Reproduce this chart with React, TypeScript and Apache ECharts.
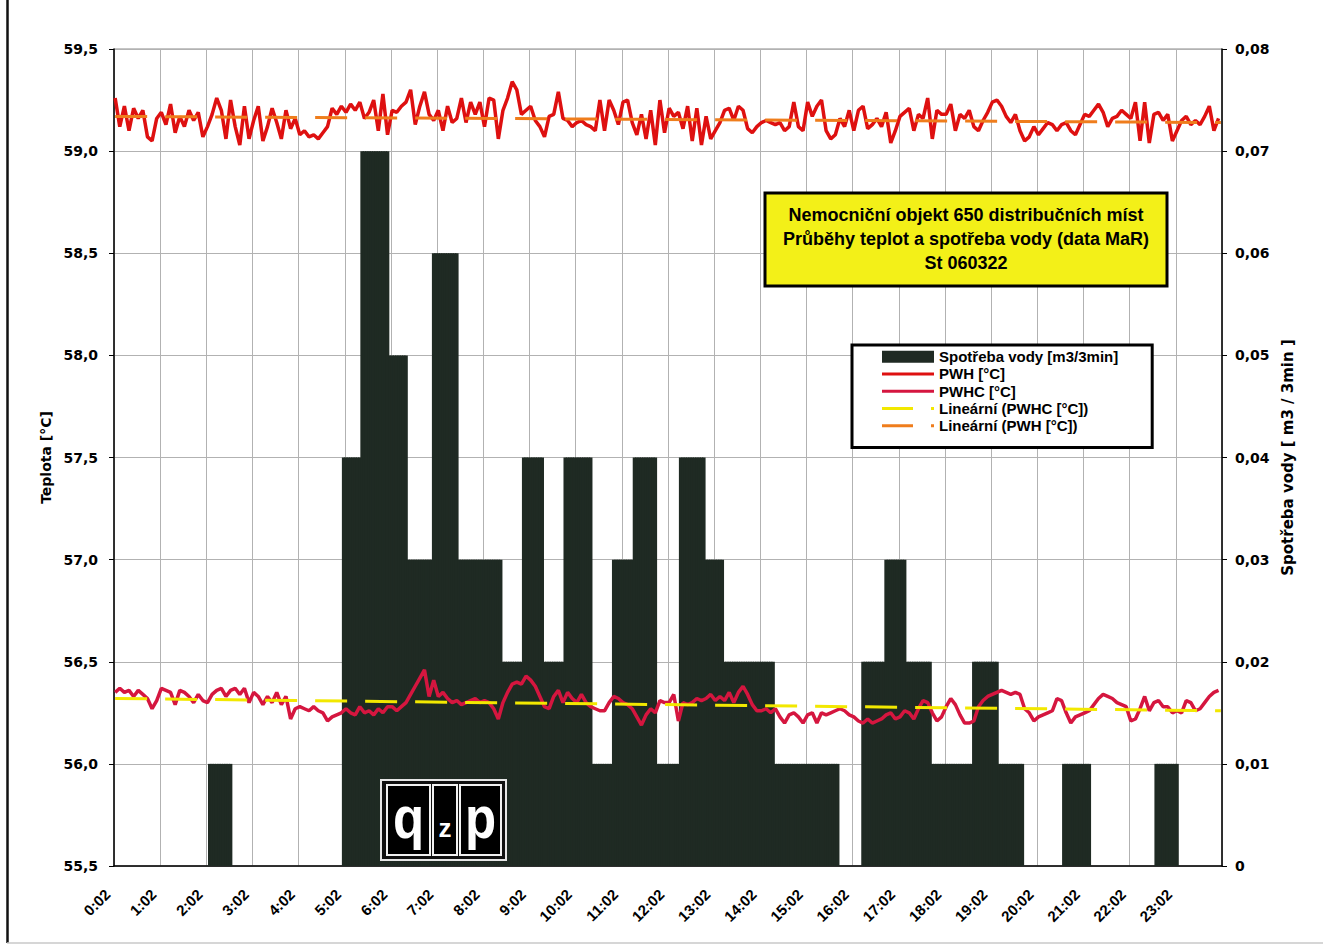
import { useEffect, useRef } from 'react';
import * as echarts from 'echarts';

// Hour labels of the time axis (one 3-minute sample every slot, 20 slots per hour)
const hourLabels = [
  '0:02', '1:02', '2:02', '3:02', '4:02', '5:02', '6:02', '7:02', '8:02', '9:02', '10:02', '11:02',
  '12:02', '13:02', '14:02', '15:02', '16:02', '17:02', '18:02', '19:02', '20:02', '21:02', '22:02', '23:02',
];
const SLOTS_PER_HOUR = 20;

// Water consumption [m3/3min] as runs of equal readings: first sample, end sample (exclusive), value
const flowStart = [41, 99, 107, 119, 127, 138, 149, 168, 177, 186, 195, 207, 216, 225, 235, 245, 256, 264, 286, 324, 334, 343, 354, 372, 383, 411, 451];
const flowEnd = [51, 107, 119, 127, 138, 149, 168, 177, 186, 195, 207, 216, 225, 235, 245, 256, 264, 286, 314, 334, 343, 354, 372, 383, 394, 423, 461];
const flowValue = [0.01, 0.04, 0.07, 0.05, 0.03, 0.06, 0.03, 0.02, 0.04, 0.02, 0.04, 0.01, 0.03, 0.04, 0.01, 0.04, 0.03, 0.02, 0.01, 0.02, 0.03, 0.02, 0.01, 0.02, 0.01, 0.01, 0.01];

// PWH temperature [°C], one reading every second sample (6 min)
const pwh = [
  59.26, 59.12, 59.22, 59.10, 59.21, 59.16, 59.20, 59.07, 59.05, 59.16, 59.19, 59.13, 59.23, 59.09, 59.17, 59.12, 59.20, 59.15, 59.19, 59.07,
  59.12, 59.18, 59.26, 59.20, 59.06, 59.25, 59.12, 59.03, 59.22, 59.06, 59.15, 59.22, 59.05, 59.12, 59.21, 59.14, 59.06, 59.20, 59.11, 59.16,
  59.08, 59.10, 59.07, 59.08, 59.06, 59.09, 59.12, 59.21, 59.18, 59.22, 59.19, 59.23, 59.20, 59.24, 59.16, 59.19, 59.25, 59.10, 59.28, 59.08,
  59.20, 59.19, 59.22, 59.24, 59.30, 59.13, 59.22, 59.29, 59.18, 59.15, 59.20, 59.10, 59.22, 59.14, 59.16, 59.26, 59.14, 59.24, 59.18, 59.24,
  59.12, 59.26, 59.25, 59.06, 59.20, 59.26, 59.34, 59.30, 59.18, 59.20, 59.22, 59.15, 59.12, 59.07, 59.17, 59.18, 59.29, 59.16, 59.15, 59.12,
  59.14, 59.15, 59.13, 59.12, 59.10, 59.25, 59.10, 59.25, 59.20, 59.13, 59.24, 59.25, 59.14, 59.08, 59.18, 59.06, 59.20, 59.03, 59.25, 59.09,
  59.21, 59.17, 59.19, 59.11, 59.22, 59.05, 59.21, 59.03, 59.17, 59.06, 59.10, 59.14, 59.20, 59.21, 59.15, 59.22, 59.20, 59.11, 59.09, 59.12,
  59.14, 59.15, 59.14, 59.13, 59.14, 59.10, 59.12, 59.24, 59.12, 59.10, 59.24, 59.17, 59.22, 59.25, 59.10, 59.06, 59.08, 59.16, 59.12, 59.20,
  59.10, 59.20, 59.22, 59.11, 59.13, 59.16, 59.12, 59.19, 59.04, 59.10, 59.17, 59.19, 59.21, 59.10, 59.18, 59.16, 59.26, 59.06, 59.20, 59.18,
  59.18, 59.23, 59.10, 59.18, 59.16, 59.20, 59.12, 59.10, 59.15, 59.19, 59.24, 59.25, 59.22, 59.17, 59.14, 59.18, 59.10, 59.05, 59.07, 59.12,
  59.08, 59.11, 59.14, 59.13, 59.10, 59.13, 59.14, 59.10, 59.08, 59.13, 59.18, 59.17, 59.20, 59.23, 59.19, 59.12, 59.16, 59.17, 59.20, 59.18,
  59.16, 59.24, 59.05, 59.24, 59.04, 59.18, 59.19, 59.15, 59.18, 59.05, 59.10, 59.15, 59.17, 59.13, 59.15, 59.13, 59.17, 59.22, 59.10, 59.16,
];

// PWHC temperature [°C], one reading every second sample (6 min)
const pwhc = [
  56.35, 56.37, 56.35, 56.36, 56.33, 56.36, 56.34, 56.32, 56.27, 56.31, 56.37, 56.36, 56.35, 56.29, 56.36, 56.35, 56.33, 56.30, 56.34, 56.31,
  56.30, 56.34, 56.36, 56.37, 56.33, 56.36, 56.37, 56.34, 56.37, 56.30, 56.35, 56.33, 56.29, 56.33, 56.30, 56.35, 56.29, 56.33, 56.22, 56.27,
  56.28, 56.27, 56.26, 56.28, 56.26, 56.25, 56.21, 56.23, 56.24, 56.25, 56.27, 56.25, 56.24, 56.28, 56.25, 56.26, 56.24, 56.27, 56.25, 56.28,
  56.28, 56.26, 56.28, 56.30, 56.34, 56.38, 56.42, 56.46, 56.33, 56.41, 56.33, 56.35, 56.32, 56.30, 56.31, 56.29, 56.30, 56.31, 56.32, 56.30,
  56.31, 56.30, 56.27, 56.22, 56.30, 56.35, 56.39, 56.40, 56.39, 56.43, 56.41, 56.38, 56.33, 56.28, 56.27, 56.33, 56.36, 56.30, 56.35, 56.32,
  56.30, 56.34, 56.30, 56.28, 56.27, 56.26, 56.26, 56.30, 56.33, 56.32, 56.30, 56.29, 56.27, 56.23, 56.19, 56.24, 56.27, 56.25, 56.31, 56.30,
  56.30, 56.34, 56.21, 56.30, 56.29, 56.30, 56.32, 56.31, 56.32, 56.34, 56.31, 56.33, 56.31, 56.35, 56.30, 56.35, 56.38, 56.34, 56.29, 56.26,
  56.26, 56.27, 56.25, 56.27, 56.23, 56.20, 56.24, 56.25, 56.23, 56.20, 56.24, 56.25, 56.20, 56.25, 56.24, 56.25, 56.26, 56.27, 56.26, 56.24,
  56.23, 56.21, 56.20, 56.22, 56.20, 56.21, 56.22, 56.24, 56.25, 56.22, 56.23, 56.26, 56.25, 56.22, 56.27, 56.31, 56.30, 56.25, 56.21, 56.23,
  56.28, 56.32, 56.29, 56.24, 56.20, 56.20, 56.21, 56.28, 56.31, 56.33, 56.34, 56.35, 56.36, 56.35, 56.34, 56.35, 56.34, 56.27, 56.25, 56.21,
  56.23, 56.24, 56.25, 56.26, 56.32, 56.31, 56.25, 56.20, 56.23, 56.24, 56.25, 56.26, 56.29, 56.32, 56.34, 56.33, 56.32, 56.30, 56.29, 56.28,
  56.21, 56.22, 56.27, 56.33, 56.26, 56.30, 56.31, 56.28, 56.28, 56.25, 56.26, 56.25, 56.31, 56.30, 56.26, 56.27, 56.30, 56.33, 56.35, 56.36,
];

// Linear trend end points (first and last sample)
const pwhTrend = [59.17, 59.14];
const pwhcTrend = [56.32, 56.26];

const titleLines = [
  'Nemocniční objekt 650 distribučních míst',
  'Průběhy teplot a spotřeba vody (data MaR)',
  'St 060322',
];

const NAME_FLOW = 'Spotřeba vody [m3/3min]';
const NAME_PWH = 'PWH [°C]';
const NAME_PWHC = 'PWHC [°C]';
const NAME_TREND_PWHC = 'Lineární (PWHC [°C])';
const NAME_TREND_PWH = 'Lineární (PWH [°C])';

const COLOR_FLOW = '#1f2a23';
const COLOR_PWH = '#de1010';
const COLOR_PWHC = '#d5163f';
const COLOR_TREND_PWHC = '#f2e800';
const COLOR_TREND_PWH = '#ef7d1c';

const SOLID_ICON = 'path://M0,0M52,12M0,4.5h52v3h-52z';
const DASH_ICON = 'path://M0,0M52,12M0,4.5h31v3h-31zM49,4.5h3v3h-3z';

const TICK_FONT = { fontFamily: 'DejaVu Sans', fontWeight: 'bold' as const, color: '#000' };

function buildOption() {
  const categories: string[] = [];
  hourLabels.forEach((label, h) => {
    for (let s = 0; s < SLOTS_PER_HOUR; s++) {
      const minute = 2 + s * 3;
      categories.push(s === 0 ? label : `${h}:${String(minute).padStart(2, '0')}`);
    }
  });
  const total = categories.length;

  const flow: number[] = categories.map(() => 0);
  flowStart.forEach((start, k) => {
    for (let i = start; i < flowEnd[k]; i++) flow[i] = flowValue[k];
  });

  const pwhPoints = pwh.map((v, k) => [k * 2, v]);
  const pwhcPoints = pwhc.map((v, k) => [k * 2, v]);

  const gridLine = { color: '#b2b2b2', width: 1 };
  const top = 10;

  return {
    animation: false,
    backgroundColor: '#ffffff',
    grid: { left: 114, top: 49, width: 1108, height: 817, show: true, borderColor: '#8a8a8a', borderWidth: 1 },
    xAxis: {
      type: 'category',
      data: categories,
      boundaryGap: true,
      axisLine: { lineStyle: { color: '#000', width: 1.5 } },
      axisTick: { interval: SLOTS_PER_HOUR - 1, length: 5, lineStyle: { color: '#000' } },
      axisLabel: {
        interval: SLOTS_PER_HOUR - 1,
        rotate: 45,
        margin: 18,
        padding: [0, 11, 0, 0],
        fontFamily: 'Liberation Sans',
        fontWeight: 'bold',
        fontSize: 15,
        color: '#000',
      },
      splitLine: { show: true, interval: SLOTS_PER_HOUR - 1, lineStyle: gridLine },
    },
    yAxis: [
      {
        type: 'value',
        position: 'left',
        min: 55.5,
        max: 59.5,
        interval: 0.5,
        name: 'Teplota [°C]',
        nameLocation: 'middle',
        nameRotate: 90,
        nameGap: 60,
        nameTextStyle: { ...TICK_FONT, fontSize: 14 },
        axisLine: { show: true, lineStyle: { color: '#000', width: 1.5 } },
        axisTick: { show: true, length: 5, lineStyle: { color: '#000' } },
        axisLabel: {
          ...TICK_FONT,
          fontSize: 14,
          margin: 16,
          formatter: (v: number) => v.toFixed(1).replace('.', ','),
        },
        splitLine: { show: true, lineStyle: gridLine },
      },
      {
        type: 'value',
        position: 'right',
        min: 0,
        max: 0.08,
        interval: 0.01,
        name: 'Spotřeba vody [ m3 / 3min ]',
        nameLocation: 'middle',
        nameRotate: 90,
        nameGap: 56,
        nameTextStyle: { ...TICK_FONT, fontSize: 15 },
        axisLine: { show: true, lineStyle: { color: '#000', width: 1.5 } },
        axisTick: { show: true, length: 5, lineStyle: { color: '#000' } },
        axisLabel: {
          ...TICK_FONT,
          fontSize: 14,
          margin: 13,
          formatter: (v: number) => (v === 0 ? '0' : v.toFixed(2).replace('.', ',')),
        },
        splitLine: { show: false },
      },
    ],
    legend: {
      orient: 'vertical',
      left: 852,
      top: 345,
      padding: [3, 34, 13, 30],
      itemWidth: 52,
      itemHeight: 12,
      itemGap: 0,
      backgroundColor: '#ffffff',
      borderColor: '#000',
      borderWidth: 3,
      borderRadius: 0,
      selectedMode: false,
      textStyle: { fontFamily: 'Liberation Sans', fontWeight: 'bold', fontSize: 15, color: '#000', lineHeight: 17.3 },
      data: [
        { name: NAME_FLOW, icon: 'rect' },
        { name: NAME_PWH, icon: SOLID_ICON },
        { name: NAME_PWHC, icon: SOLID_ICON },
        { name: NAME_TREND_PWHC, icon: DASH_ICON },
        { name: NAME_TREND_PWH, icon: DASH_ICON },
      ],
      z: 8,
    },
    series: [
      {
        name: NAME_FLOW,
        type: 'bar',
        yAxisIndex: 1,
        data: flow,
        // slightly wider than one 3-minute slot so neighbouring bars merge into solid blocks
        barWidth: 3.6,
        color: COLOR_FLOW,
        itemStyle: { color: COLOR_FLOW },
        silent: true,
        z: 2,
      },
      {
        name: NAME_PWH,
        type: 'line',
        yAxisIndex: 0,
        data: pwhPoints,
        symbol: 'none',
        color: COLOR_PWH,
        itemStyle: { color: COLOR_PWH },
        lineStyle: { color: COLOR_PWH, width: 3.5 },
        silent: true,
        z: 3,
      },
      {
        name: NAME_PWHC,
        type: 'line',
        yAxisIndex: 0,
        data: pwhcPoints,
        symbol: 'none',
        color: COLOR_PWHC,
        itemStyle: { color: COLOR_PWHC },
        lineStyle: { color: COLOR_PWHC, width: 3.5 },
        silent: true,
        z: 3,
      },
      {
        name: NAME_TREND_PWHC,
        type: 'line',
        yAxisIndex: 0,
        data: [[0, pwhcTrend[0]], [total - 1, pwhcTrend[1]]],
        symbol: 'none',
        color: COLOR_TREND_PWHC,
        itemStyle: { color: COLOR_TREND_PWHC },
        lineStyle: { color: COLOR_TREND_PWHC, width: 3, type: [32, 18] },
        silent: true,
        z: 4,
      },
      {
        name: NAME_TREND_PWH,
        type: 'line',
        yAxisIndex: 0,
        data: [[0, pwhTrend[0]], [total - 1, pwhTrend[1]]],
        symbol: 'none',
        color: COLOR_TREND_PWH,
        itemStyle: { color: COLOR_TREND_PWH },
        lineStyle: { color: COLOR_TREND_PWH, width: 3, type: [32, 18] },
        silent: true,
        z: 4,
      },
    ],
    graphic: [
      // page frame
      { type: 'line', z: top, shape: { x1: 7.5, y1: 0, x2: 7.5, y2: 943 }, style: { stroke: '#111', lineWidth: 2.5 } },
      { type: 'line', z: top, shape: { x1: 7, y1: 943, x2: 1323, y2: 943 }, style: { stroke: '#c8c8c8', lineWidth: 1.5 } },
      // title box
      { type: 'rect', z: top, shape: { x: 765, y: 193, width: 402, height: 93 }, style: { fill: '#f3f018', stroke: '#000', lineWidth: 3 } },
      ...titleLines.map((t, i) => ({
        type: 'text',
        z: top + 1,
        x: 966,
        y: 215 + i * 24,
        style: {
          text: t,
          fontFamily: 'Liberation Sans',
          fontWeight: 'bold',
          fontSize: 18,
          fill: '#000',
          align: 'center',
          verticalAlign: 'middle',
        },
      })),
      // qzp logo
      { type: 'rect', z: top, shape: { x: 381, y: 780, width: 125, height: 80 }, style: { fill: '#111', stroke: '#e6e6e6', lineWidth: 2 } },
      { type: 'rect', z: top + 1, shape: { x: 387, y: 785, width: 43, height: 70 }, style: { fill: '#000', stroke: '#f2f2f2', lineWidth: 2 } },
      { type: 'rect', z: top + 1, shape: { x: 433, y: 785, width: 24, height: 70 }, style: { fill: '#000', stroke: '#f2f2f2', lineWidth: 2 } },
      { type: 'rect', z: top + 1, shape: { x: 460, y: 785, width: 41, height: 70 }, style: { fill: '#000', stroke: '#f2f2f2', lineWidth: 2 } },
      {
        type: 'text', z: top + 2, x: 408.5, y: 818, scaleX: 0.85,
        style: { text: 'q', fontFamily: 'Liberation Sans', fontWeight: 'bold', fontSize: 60, fill: '#fff', align: 'center', verticalAlign: 'middle' },
      },
      {
        type: 'text', z: top + 2, x: 445, y: 828,
        style: { text: 'z', fontFamily: 'Liberation Sans', fontWeight: 'bold', fontSize: 26, fill: '#fff', align: 'center', verticalAlign: 'middle' },
      },
      {
        type: 'text', z: top + 2, x: 480.5, y: 818, scaleX: 0.85,
        style: { text: 'p', fontFamily: 'Liberation Sans', fontWeight: 'bold', fontSize: 60, fill: '#fff', align: 'center', verticalAlign: 'middle' },
      },
    ],
  };
}

export default function App() {
  const ref = useRef<HTMLDivElement>(null);
  useEffect(() => {
    if (!ref.current) return;
    const chart = echarts.init(ref.current, undefined, { renderer: 'svg' });
    chart.setOption(buildOption() as any);
    return () => chart.dispose();
  }, []);
  return (
    <div
      ref={ref}
      style={{ position: 'absolute', left: 0, top: 0, width: 1323, height: 947, background: '#fff' }}
    />
  );
}
